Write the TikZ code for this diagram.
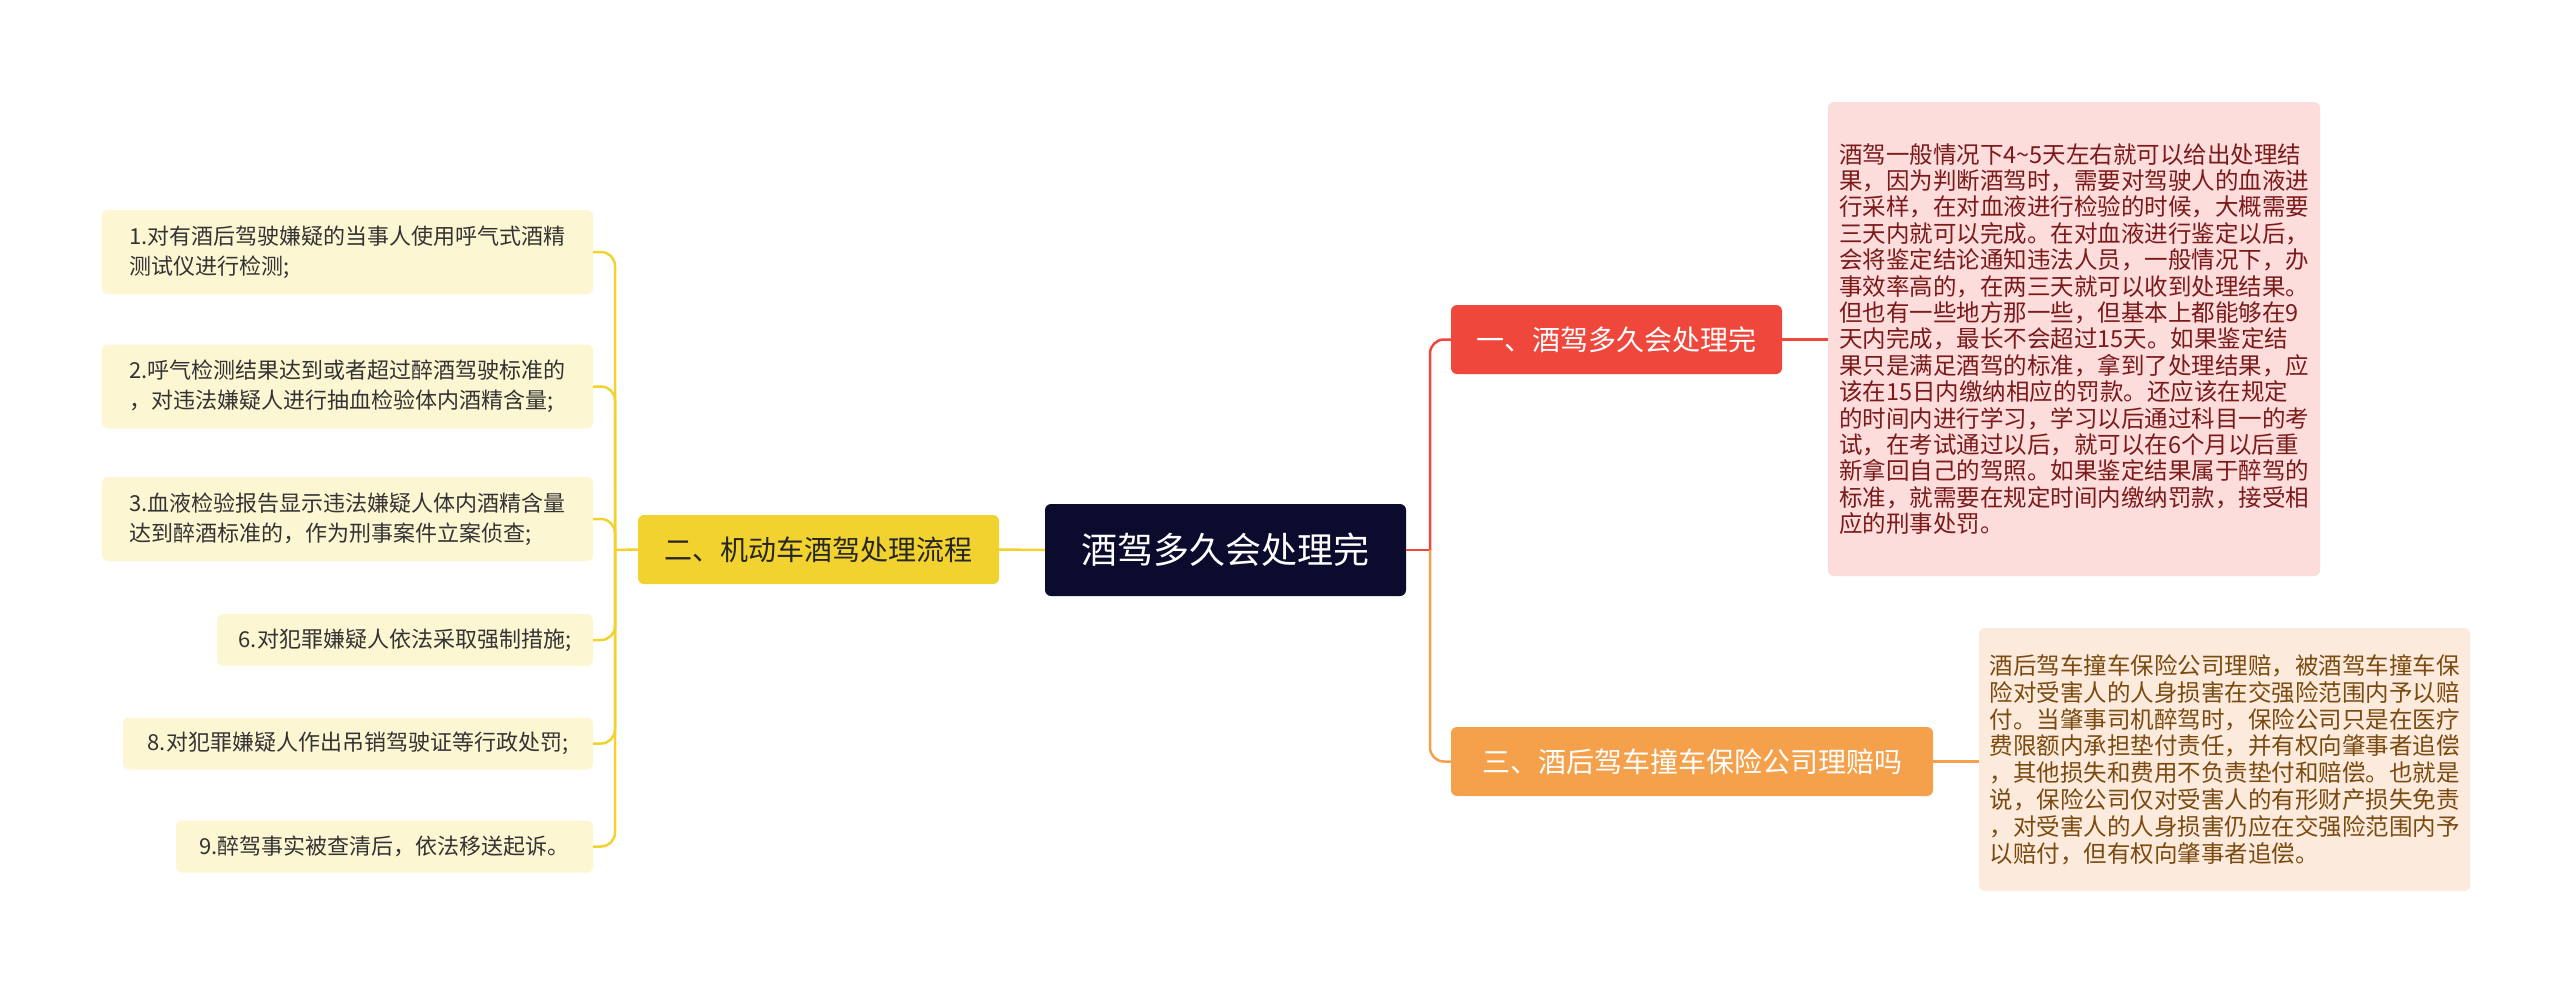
\documentclass[tikz,border=0pt]{standalone}
\usepackage{fontspec}
\setmainfont{Noto Sans CJK SC}
\begin{document}
\begin{tikzpicture}[x=1pt,y=-1pt,
  box/.style={rounded corners=6pt,inner sep=0pt,align=left},
  leafL/.style={box,fill=yellowbg,text=black!80,font=\fontsize{22}{30}\selectfont},
  br/.style={box,align=center,font=\fontsize{28}{32}\selectfont},
  ln/.style={line width=2.5pt,rounded corners=14pt}]
\definecolor{navy}{HTML}{0B0B2E}
\definecolor{bred}{HTML}{F0473C}
\definecolor{borange}{HTML}{F5A04A}
\definecolor{byellow}{HTML}{F2D22E}
\definecolor{yellowbg}{HTML}{FDF6D2}
\definecolor{pinkbg}{HTML}{FDDCDC}
\definecolor{peachbg}{HTML}{FCEBDC}
\useasboundingbox[fill=white] (0,0) rectangle (2560,989);
\node[box,fill=navy,text=white,minimum width=361,minimum height=92,font=\fontsize{36}{40}\selectfont] (root) at (1225.5,550) {酒驾多久会处理完};
\node[br,fill=bred,text=white,minimum width=331,minimum height=69] (b1) at (1616.5,339.5) {一、酒驾多久会处理完};
\node[br,fill=borange,text=white,minimum width=482,minimum height=69] (b3) at (1692,761.5) {三、酒后驾车撞车保险公司理赔吗};
\node[br,fill=byellow,text=black!85,minimum width=361,minimum height=69] (b2) at (818.5,549.5) {二、机动车酒驾处理流程};
\node[box,fill=pinkbg,text={rgb,255:red,122;green,26;blue,26},minimum width=492,minimum height=474,font=\fontsize{23.5}{26.4}\selectfont] (r1) at (2074,339) {酒驾一般情况下4\textasciitilde5天左右就可以给出处理结\\果，因为判断酒驾时，需要对驾驶人的血液进\\行采样，在对血液进行检验的时候，大概需要\\三天内就可以完成。在对血液进行鉴定以后，\\会将鉴定结论通知违法人员，一般情况下，办\\事效率高的，在两三天就可以收到处理结果。\\但也有一些地方那一些，但基本上都能够在9\\天内完成，最长不会超过15天。如果鉴定结\\果只是满足酒驾的标准，拿到了处理结果，应\\该在15日内缴纳相应的罚款。还应该在规定\\的时间内进行学习，学习以后通过科目一的考\\试，在考试通过以后，就可以在6个月以后重\\新拿回自己的驾照。如果鉴定结果属于醉驾的\\标准，就需要在规定时间内缴纳罚款，接受相\\应的刑事处罚。};
\node[box,fill=peachbg,text={rgb,255:red,122;green,74;blue,16},minimum width=491,minimum height=263,font=\fontsize{23.5}{26.8}\selectfont] (r2) at (2224.5,759.5) {酒后驾车撞车保险公司理赔，被酒驾车撞车保\\险对受害人的人身损害在交强险范围内予以赔\\付。当肇事司机醉驾时，保险公司只是在医疗\\费限额内承担垫付责任，并有权向肇事者追偿\\，其他损失和费用不负责垫付和赔偿。也就是\\说，保险公司仅对受害人的有形财产损失免责\\，对受害人的人身损害仍应在交强险范围内予\\以赔付，但有权向肇事者追偿。};
\node[leafL,minimum width=491,minimum height=84] (l1) at (347.5,252) {1.对有酒后驾驶嫌疑的当事人使用呼气式酒精\\测试仪进行检测;};
\node[leafL,minimum width=491,minimum height=84] (l2) at (347.5,386.5) {2.呼气检测结果达到或者超过醉酒驾驶标准的\\，对违法嫌疑人进行抽血检验体内酒精含量;};
\node[leafL,minimum width=491,minimum height=84] (l3) at (347.5,519) {3.血液检验报告显示违法嫌疑人体内酒精含量\\达到醉酒标准的，作为刑事案件立案侦查;};
\node[leafL,minimum width=376,minimum height=52] (l6) at (405,640) {6.对犯罪嫌疑人依法采取强制措施;};
\node[leafL,minimum width=470,minimum height=52] (l8) at (358,743.5) {8.对犯罪嫌疑人作出吊销驾驶证等行政处罚;};
\node[leafL,minimum width=417,minimum height=52] (l9) at (384.5,846.5) {9.醉驾事实被查清后，依法移送起诉。};
\coordinate (rj) at (1430,550);
\coordinate (lj) at (615,550);
\draw[line width=2.5pt,bred] (root.east) -- (rj);
\draw[ln,bred] (rj) |- (b1.west);
\draw[ln,borange] (rj) |- (b3.west);
\draw[line width=2.5pt,bred] (b1.east) -- (b1.east -| r1.west);
\draw[line width=2.5pt,borange] (b3.east) -- (b3.east -| r2.west);
\draw[line width=2.5pt,byellow] (root.west) -- (b2.east);
\draw[line width=2.5pt,byellow] (b2.west) -- (lj);
\foreach \n in {l1,l2,l3,l6,l8,l9} \draw[ln,byellow] (lj) |- (\n.east);
\end{tikzpicture}
\end{document}
